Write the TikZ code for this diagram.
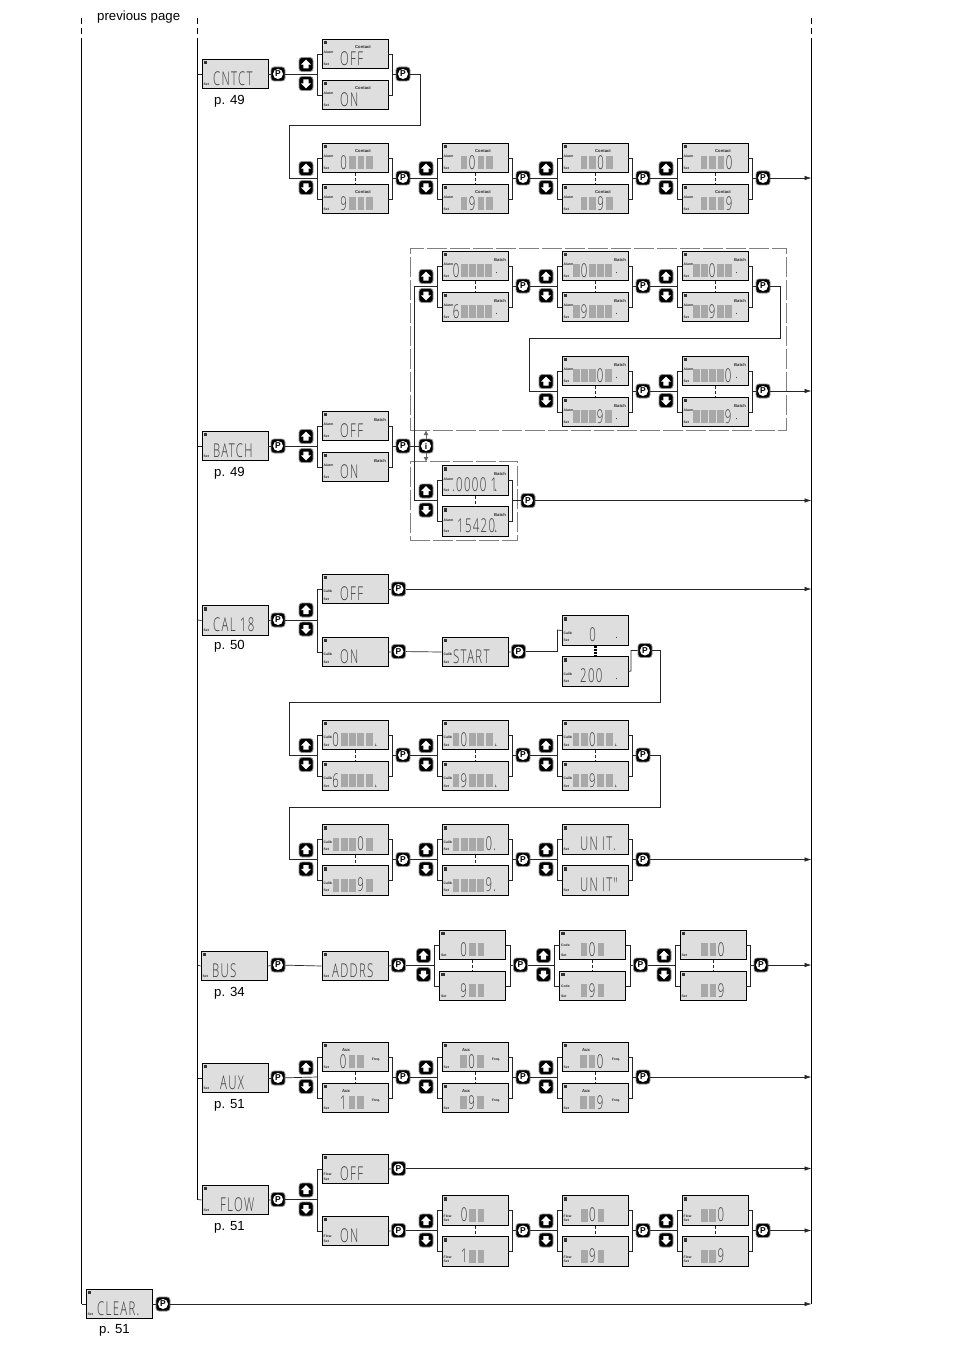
\documentclass[tikz,border=0pt]{standalone}
\usepackage{fontspec}
\setmainfont{Liberation Sans}
\newfontfamily\segfont[FakeStretch=0.6,LetterSpace=7]{Open Sans Light}
\newfontfamily\tinyfont{Liberation Sans}
\usetikzlibrary{arrows.meta}
\definecolor{lcdbg}{gray}{0.87}
\definecolor{cellgr}{gray}{0.66}
\definecolor{seg}{gray}{0.22}
\tikzset{
  wire/.style={line width=0.7pt,draw=black!85},
  flow/.style={wire,-{Latex[length=7pt,width=4.5pt]}},
  lcdbox/.style={draw=black,line width=0.75pt,fill=lcdbg,minimum width=66pt,minimum height=29.5pt,inner sep=0pt},
  keybox/.style={draw=black!45,line width=0.8pt,fill=black,rounded corners=3pt,minimum size=14pt,inner sep=0pt},
  keydisc/.style={circle,fill=white,minimum size=10pt,inner sep=0pt},
  keytext/.style={text=black,font=\fontsize{8.5}{8.5}\selectfont\bfseries,inner sep=0pt},
  segtext/.style={text=seg,font=\fontsize{19}{19}\segfont,inner sep=0pt,anchor=west},
  tiny/.style={text=black!85,font=\fontsize{3.4}{3.4}\tinyfont\bfseries,inner sep=0pt},
  toplab/.style={text=black!85,font=\fontsize{4.2}{4.2}\tinyfont\bfseries,inner sep=0pt},
  caption/.style={text=black,font=\fontsize{13.2}{15}\selectfont,inner sep=0pt,yshift=-1.4pt},
  frame/.style={draw=black!50,line width=0.8pt,dash pattern=on 20pt off 3pt},
  rail/.style={draw=black,line width=0.8pt},
  raildash/.style={draw=black,line width=0.8pt,dash pattern=on 6pt off 4pt},
}
\def\sidey{13.5}
% lcd: name, x, y, top label, top dx, side label
\newcommand{\lcd}[6]{%
  \node[lcdbox] (#1) at ({#2+33},{#3+15}) {};
  \fill[black!80] ({#2+1.8},{#3+1.8}) rectangle ++(3.2,3.2);
  \node[toplab] (#1-t) at ({#2+#5},{#3+8.5}) {#4};
  \node[tiny,anchor=west] (#1-s) at ({#2+1.5},{#3+\sidey}) {#6};
  \node[tiny,anchor=west] (#1-e) at ({#2+1.5},{#3+25}) {Set};
}
\newcommand{\word}[5]{\node[segtext] (#1-w) at ({#2+#4},{#3+19.5}) {#5};}
\newcommand{\cells}[6]{%
  \foreach \c [count=\i from 0] in {#6}{%
    \if*\c
      \fill[cellgr] ({#2+#4+\i*#5},{#3+13}) rectangle ++(6.8,13);
    \else
      \node[segtext] (#1-c\i) at ({#2+#4+\i*#5-0.3},{#3+19.5}) {\c};
    \fi
  }%
}
% small decimal point in the LCD
\newcommand{\lcddot}[2]{\fill[black!75] ({#1+53.5},{#2+21}) rectangle ++(1.4,1.4);}
% small unit letter in the LCD
\newcommand{\lcdunit}[3]{\node[tiny] (#1-L) at ({#2+54},{#3+25}) {L};}
\newcommand{\pkey}[3]{%
  \node[keybox] (#1) at (#2,#3) {};
  \node[keydisc] (#1-k) at (#2,#3) {};
  \node[keytext] (#1-l) at (#2,#3) {P};
}
\newcommand{\ikey}[3]{%
  \node[keybox] (#1) at (#2,#3) {};
  \node[keydisc] (#1-k) at (#2,#3) {};
  \node[keytext] (#1-l) at (#2,#3) {i};
}
\newcommand{\upkey}[3]{%
  \node[keybox] (#1) at (#2,#3) {};
  \fill[white] (#2,{#3-4.8}) -- ({#2+5},{#3+0.2}) -- ({#2+2.6},{#3+0.2}) -- ({#2+2.6},{#3+4}) -- ({#2-2.6},{#3+4}) -- ({#2-2.6},{#3+0.2}) -- ({#2-5},{#3+0.2}) -- cycle;
}
\newcommand{\downkey}[3]{%
  \node[keybox] (#1) at (#2,#3) {};
  \fill[white] (#2,{#3+4.8}) -- ({#2+5},{#3-0.2}) -- ({#2+2.6},{#3-0.2}) -- ({#2+2.6},{#3-4}) -- ({#2-2.6},{#3-4}) -- ({#2-2.6},{#3-0.2}) -- ({#2-5},{#3-0.2}) -- cycle;
}
% pair: name, x, y, top, topdx, side, showdots(1/0), P dx
\newcommand{\pair}[8]{%
  \lcd{#1a}{#2}{#3}{#4}{#5}{#6}%
  \lcd{#1b}{#2}{#3+41}{#4}{#5}{#6}%
  \coordinate (#1l) at ({#2-5},{#3+35});
  \coordinate (#1r) at ({#2+70.5},{#3+35});
  \draw[wire] ({#2},{#3+15}) -- ({#2-5},{#3+15}) -- ({#2-5},{#3+56}) -- ({#2},{#3+56});
  \draw[wire] ({#2+66},{#3+15}) -- ({#2+70.5},{#3+15}) -- ({#2+70.5},{#3+56}) -- ({#2+66},{#3+56});
  \ifnum#7=1 \draw[wire,densely dashed] (#1a.south) -- (#1b.north); \fi
  \upkey{#1u}{#2-16}{#3+25.5}
  \downkey{#1d}{#2-16}{#3+44.5}
  \pkey{#1p}{#2+#8}{#3+35}
  \draw[wire] (#1r) -- (#1p);
}
\begin{document}
\begin{tikzpicture}[x=1pt,y=-1pt]
\useasboundingbox (0,0) rectangle (954,1351);
\fill[white] (0,0) rectangle (954,1351);
% rails
\coordinate (L1a) at (81.5,18); \coordinate (L1b) at (81.5,38); \coordinate (L1c) at (81.5,1304);
\coordinate (L2a) at (197.5,18); \coordinate (L2b) at (197.5,38); \coordinate (L2c) at (197.5,1199.5);
\coordinate (R1a) at (811.5,18); \coordinate (R1b) at (811.5,38); \coordinate (R1c) at (811.5,1304);
\draw[raildash] (L1a) -- (L1b); \draw[rail] (L1b) -- (L1c);
\draw[raildash] (L2a) -- (L2b); \draw[rail] (L2b) -- (L2c);
\draw[raildash] (R1a) -- (R1b); \draw[rail] (R1b) -- (R1c);
\node[caption,anchor=west] (prev) at (97,16) {previous page};
% dashed frames
\node[frame,minimum width=376pt,minimum height=182pt,inner sep=0pt] (fb1) at (598,339) {};
\node[frame,minimum width=107pt,minimum height=79pt,inner sep=0pt] (fb2) at (463.5,500.5) {};

%%% CNTCT
\lcd{cn}{202}{59}{}{0}{}\word{cn}{202}{59}{11}{CNTCT}
\pkey{cnp}{278}{74}
\node[caption] (cnc) at (229.5,100) {p. 49};
\pair{c0}{322}{39}{Contact}{41}{Alarm}{0}{81}
\word{c0a}{322}{39}{18}{OFF}\word{c0b}{322}{80}{18}{ON}
\pair{c1}{322}{143}{Contact}{41}{Alarm}{1}{81}
\cells{c1a}{322}{143}{18.5}{8.5}{0,*,*,*}\cells{c1b}{322}{184}{18.5}{8.5}{9,*,*,*}
\pair{c2}{442}{143}{Contact}{41}{Alarm}{1}{81}
\cells{c2a}{442}{143}{18.5}{8.5}{*,0,*,*}\cells{c2b}{442}{184}{18.5}{8.5}{*,9,*,*}
\pair{c3}{562}{143}{Contact}{41}{Alarm}{1}{81}
\cells{c3a}{562}{143}{18.5}{8.5}{*,*,0,*}\cells{c3b}{562}{184}{18.5}{8.5}{*,*,9,*}
\pair{c4}{682}{143}{Contact}{41}{Alarm}{1}{81}
\cells{c4a}{682}{143}{18.5}{8.5}{*,*,*,0}\cells{c4b}{682}{184}{18.5}{8.5}{*,*,*,9}
\coordinate (cne) at (197.5,74);
\draw[wire] (cne) -- (cn.west);
\draw[wire] (cn.east) -- (cnp);
\draw[wire] (cnp) -- (c0l);
\draw[wire] (c0p) -- (420,74) -- (420,125.5) -- (289.5,125.5) -- (289.5,178) -- (c1l);
\draw[wire] (c1p) -- (c2l); \draw[wire] (c2p) -- (c3l); \draw[wire] (c3p) -- (c4l);
\coordinate (c4e) at (811.5,178);
\draw[flow] (c4p) -- (c4e);

%%% BATCH
\lcd{ba}{202}{431}{}{0}{}\word{ba}{202}{431}{11}{BATCH}
\pkey{bap}{278}{446}
\node[caption] (bac) at (229.5,472) {p. 49};
\pair{b0}{322}{411}{Batch}{58}{Alarm}{0}{81}
\word{b0a}{322}{411}{18}{OFF}\word{b0b}{322}{452}{18}{ON}
\coordinate (biu) at (426,430); \coordinate (bid) at (426,462);
\draw[draw=black!60,line width=0.9pt,{Latex[length=5pt,width=5pt]}-{Latex[length=5pt,width=5pt]}] (biu) -- (bid);
\ikey{bi}{426}{446}
\pair{b1}{442}{251}{Batch}{58}{Alarm}{1}{81}
\cells{b1a}{442}{251}{11}{8}{0,*,*,*,*}\cells{b1b}{442}{292}{11}{8}{6,*,*,*,*}
\pair{b2}{562}{251}{Batch}{58}{Alarm}{1}{81}
\cells{b2a}{562}{251}{11}{8}{*,0,*,*,*}\cells{b2b}{562}{292}{11}{8}{*,9,*,*,*}
\pair{b3}{682}{251}{Batch}{58}{Alarm}{1}{81}
\cells{b3a}{682}{251}{11}{8}{*,*,0,*,*}\cells{b3b}{682}{292}{11}{8}{*,*,9,*,*}
\pair{b4}{562}{356}{Batch}{58}{Alarm}{1}{81}
\cells{b4a}{562}{356}{11}{8}{*,*,*,0,*}\cells{b4b}{562}{397}{11}{8}{*,*,*,9,*}
\pair{b5}{682}{356}{Batch}{58}{Alarm}{1}{81}
\cells{b5a}{682}{356}{11}{8}{*,*,*,*,0}\cells{b5b}{682}{397}{11}{8}{*,*,*,*,9}
\foreach \xx/\yy in {442/251,442/292,562/251,562/292,682/251,682/292,562/356,562/397,682/356,682/397}{\lcddot{\xx}{\yy}}
\pair{b6}{442}{465.5}{Batch}{58}{Alarm}{1}{86}
\word{b6a}{442}{465.5}{10}{.0000 1}\word{b6b}{442}{506.5}{15}{15420}
\lcdunit{b6a}{442}{465.5}\lcdunit{b6b}{442}{506.5}
\coordinate (bae) at (197.5,446);
\draw[wire] (bae) -- (ba.west);
\draw[wire] (ba.east) -- (bap);
\draw[wire] (bap) -- (b0l);
\draw[wire] (b0p) -- (bi);
\draw[wire] (b1l) -- (414.5,286) -- (414.5,500.5) -- (b6l);
\draw[wire] (b1p) -- (b2l); \draw[wire] (b2p) -- (b3l);
\draw[wire] (b3p) -- (780,286) -- (780,338) -- (529.5,338) -- (529.5,391) -- (b4l);
\draw[wire] (b4p) -- (b5l);
\coordinate (b5e) at (811.5,391); \coordinate (b6e) at (811.5,500.5);
\draw[flow] (b5p) -- (b5e);
\draw[flow] (b6p) -- (b6e);

%%% CAL
\def\sidey{17.5}
\lcd{ca}{202}{605.5}{}{0}{}\word{ca}{202}{605.5}{11}{CAL 18}
\pkey{cap}{278}{620}
\node[caption] (cac) at (229.5,645) {p. 50};
\lcd{cy}{322}{574}{}{0}{Calib}\word{cy}{322}{574}{18}{OFF}
\lcd{cz}{322}{637}{}{0}{Calib}\word{cz}{322}{637}{18}{ON}
\upkey{cau}{306}{610}\downkey{cad}{306}{629}
\coordinate (cal) at (317,620);
\draw[wire] (cap) -- (cal);
\draw[wire] (cy.west) -- (317,589) -- (317,652) -- (cz.west);
\coordinate (cae) at (197.5,620);
\draw[wire] (cae) -- (ca.west);
\draw[wire] (ca.east) -- (cap);
\pkey{cyp}{398.5}{589}\pkey{czp}{398.5}{651.5}
\draw[wire] (cy.east) -- (cyp); \draw[wire] (cz.east) -- (czp);
\coordinate (cye) at (811.5,589); \draw[flow] (cyp) -- (cye);
\lcd{cs}{442}{637}{}{0}{Calib}\word{cs}{442}{637}{11}{START}
\draw[wire] (czp) -- (cs.west);
\pkey{csp}{518.5}{651.5}
\draw[wire] (cs.east) -- (csp);
\lcd{ct}{562}{615.5}{}{0}{Calib}\cells{ct}{562}{615.5}{27.5}{8}{0}
\lcd{cu}{562}{656.5}{}{0}{Calib}\word{cu}{562}{656.5}{18}{200}
\lcddot{562}{615.5}\lcddot{562}{656.5}
\draw[wire] (csp) -- (557.5,651.5) -- (557.5,630) -- (ct.west);
\pkey{cvp}{645}{650.5}
\draw[wire] (cu.east) -- (631,671) -- (631,650.5) -- (cvp);
\draw[wire,draw=black,line width=3pt,dash pattern=on 2pt off 1pt] (ct.south) -- (cu.north);
\pair{d1}{322}{720}{}{0}{Calib}{1}{81}
\cells{d1a}{322}{720}{10.5}{8.3}{0.,*,*,*,*}\cells{d1b}{322}{761}{10.5}{8.3}{6.,*,*,*,*}
\pair{d2}{442}{720}{}{0}{Calib}{1}{81}
\cells{d2a}{442}{720}{10.5}{8.3}{*,0,*,*,*}\cells{d2b}{442}{761}{10.5}{8.3}{*,9,*,*,*}
\pair{d3}{562}{720}{}{0}{Calib}{1}{81}
\cells{d3a}{562}{720}{10.5}{8.3}{*,*,0,*,*}\cells{d3b}{562}{761}{10.5}{8.3}{*,*,9,*,*}
\foreach \n/\xx/\yy in {d1a/322/720,d1b/322/761,d2a/442/720,d2b/442/761,d3a/562/720,d3b/562/761,e1a/322/824.5,e1b/322/865.5,e2a/442/824.5,e2b/442/865.5}{\lcdunit{\n}{\xx}{\yy}}
\draw[wire] (cvp) -- (660.5,650.5) -- (660.5,702.5) -- (289.5,702.5) -- (289.5,755) -- (d1l);
\draw[wire] (d1p) -- (d2l); \draw[wire] (d2p) -- (d3l);
\pair{e1}{322}{824.5}{}{0}{Calib}{1}{81}
\cells{e1a}{322}{824.5}{10.5}{8.3}{*,*,*,0,*}\cells{e1b}{322}{865.5}{10.5}{8.3}{*,*,*,9,*}
\pair{e2}{442}{824.5}{}{0}{Calib}{1}{81}
\cells{e2a}{442}{824.5}{10.5}{8.3}{*,*,*,*,0.}\cells{e2b}{442}{865.5}{10.5}{8.3}{*,*,*,*,9.}
\def\sidey{13.5}
\pair{e3}{562}{824.5}{}{0}{}{0}{81}
\word{e3a}{562}{824.5}{18}{UN IT.}\word{e3b}{562}{865.5}{18}{UN IT"}
\draw[wire] (d3p) -- (660.5,755) -- (660.5,807) -- (289.5,807) -- (289.5,859.5) -- (e1l);
\draw[wire] (e1p) -- (e2l); \draw[wire] (e2p) -- (e3l);
\coordinate (e3e) at (811.5,859.5); \draw[flow] (e3p) -- (e3e);

%%% BUS
\def\sidey{15}
\lcd{bu}{201}{951}{}{0}{}\word{bu}{201}{951}{11}{BUS}
\pkey{bup}{278}{965}
\node[caption] (buc) at (229.5,992) {p. 34};
\lcd{ad}{322}{951}{}{0}{}\word{ad}{322}{951}{10}{ADDRS}
\pkey{adp}{398.5}{965}
\coordinate (bue) at (197.5,965);
\draw[wire] (bue) -- (bu.west); \draw[wire] (bu.east) -- (bup); \draw[wire] (bup) -- (ad.west); \draw[wire] (ad.east) -- (adp);
\pair{f1}{439.5}{930}{}{0}{}{1}{81}
\cells{f1a}{439.5}{930}{21}{8.5}{0,*,*}\cells{f1b}{439.5}{971}{21}{8.5}{9,*,*}
\pair{f2}{559.5}{930}{}{0}{Code}{1}{81}
\cells{f2a}{559.5}{930}{21}{8.5}{*,0,*}\cells{f2b}{559.5}{971}{21}{8.5}{*,9,*}
\pair{f3}{680}{930}{}{0}{}{1}{81}
\cells{f3a}{680}{930}{21}{8.5}{*,*,0}\cells{f3b}{680}{971}{21}{8.5}{*,*,9}
\draw[wire] (adp) -- (f1l); \draw[wire] (f1p) -- (f2l); \draw[wire] (f2p) -- (f3l);
\coordinate (f3e) at (811.5,965); \draw[flow] (f3p) -- (f3e);

%%% AUX
\lcd{au}{202}{1063}{}{0}{}\word{au}{202}{1063}{18}{AUX}
\pkey{aup}{278}{1078}
\node[caption] (auc) at (229.5,1104) {p. 51};
\pair{g1}{322}{1042}{Aux}{24}{}{1}{81}
\cells{g1a}{322}{1042}{18}{8.5}{0,*,*}\cells{g1b}{322}{1083}{18}{8.5}{1,*,*}
\pair{g2}{442}{1042}{Aux}{24}{}{1}{81}
\cells{g2a}{442}{1042}{18}{8.5}{*,0,*}\cells{g2b}{442}{1083}{18}{8.5}{*,9,*}
\pair{g3}{562}{1042}{Aux}{24}{}{1}{81}
\cells{g3a}{562}{1042}{18}{8.5}{*,*,0}\cells{g3b}{562}{1083}{18}{8.5}{*,*,9}
\foreach \n/\xx/\yy in {1/322/1042,2/322/1083,3/442/1042,4/442/1083,5/562/1042,6/562/1083}{
  \node[tiny] (fq\n) at ({\xx+54},{\yy+18}) {Freq.};
}
\coordinate (aue) at (197.5,1078);
\draw[wire] (aue) -- (au.west); \draw[wire] (au.east) -- (aup); \draw[wire] (aup) -- (g1l);
\draw[wire] (g1p) -- (g2l); \draw[wire] (g2p) -- (g3l);
\coordinate (g3e) at (811.5,1077); \draw[flow] (g3p) -- (g3e);

%%% FLOW
\def\sidey{20.5}
\lcd{fl}{202}{1185}{}{0}{}\word{fl}{202}{1185}{18}{FLOW}
\pkey{flp}{278}{1199.5}
\node[caption] (flc) at (229.5,1226) {p. 51};
\lcd{fy}{322}{1154}{}{0}{Flow}\word{fy}{322}{1154}{18}{OFF}
\lcd{fz}{322}{1216}{}{0}{Flow}\word{fz}{322}{1216}{18}{ON}
\upkey{flu}{306}{1190}\downkey{fld}{306}{1209}
\coordinate (fll) at (317,1199.5);
\draw[wire] (flp) -- (fll);
\draw[wire] (fy.west) -- (317,1169) -- (317,1231) -- (fz.west);
\coordinate (fle) at (197.5,1199.5);
\draw[wire] (fle) -- (fl.west); \draw[wire] (fl.east) -- (flp);
\pkey{fyp}{398.5}{1168.5}\pkey{fzp}{398.5}{1230.5}
\draw[wire] (fy.east) -- (fyp); \draw[wire] (fz.east) -- (fzp);
\coordinate (fye) at (811.5,1168.5); \draw[flow] (fyp) -- (fye);
\pair{h1}{442}{1195.5}{}{0}{Flow}{1}{81}
\cells{h1a}{442}{1195.5}{19}{8.3}{0,*,*}\cells{h1b}{442}{1236.5}{19}{8.3}{1,*,*}
\pair{h2}{562}{1195.5}{}{0}{Flow}{1}{81}
\cells{h2a}{562}{1195.5}{19}{8.3}{*,0,*}\cells{h2b}{562}{1236.5}{19}{8.3}{*,9,*}
\pair{h3}{682}{1195.5}{}{0}{Flow}{1}{81}
\cells{h3a}{682}{1195.5}{19}{8.3}{*,*,0}\cells{h3b}{682}{1236.5}{19}{8.3}{*,*,9}
\draw[wire] (fzp) -- (h1l); \draw[wire] (h1p) -- (h2l); \draw[wire] (h2p) -- (h3l);
\coordinate (h3e) at (811.5,1230.5); \draw[flow] (h3p) -- (h3e);

%%% CLEAR
\lcd{cl}{86}{1289}{}{0}{}\word{cl}{86}{1289}{11}{CLEAR.}
\pkey{clp}{163}{1304}
\node[caption] (clc) at (114.5,1329) {p. 51};
\draw[wire] (L1c) -- (cl.west); \draw[wire] (cl.east) -- (clp);
\coordinate (cle) at (811.5,1304); \draw[flow] (clp) -- (cle);
\end{tikzpicture}
\end{document}
